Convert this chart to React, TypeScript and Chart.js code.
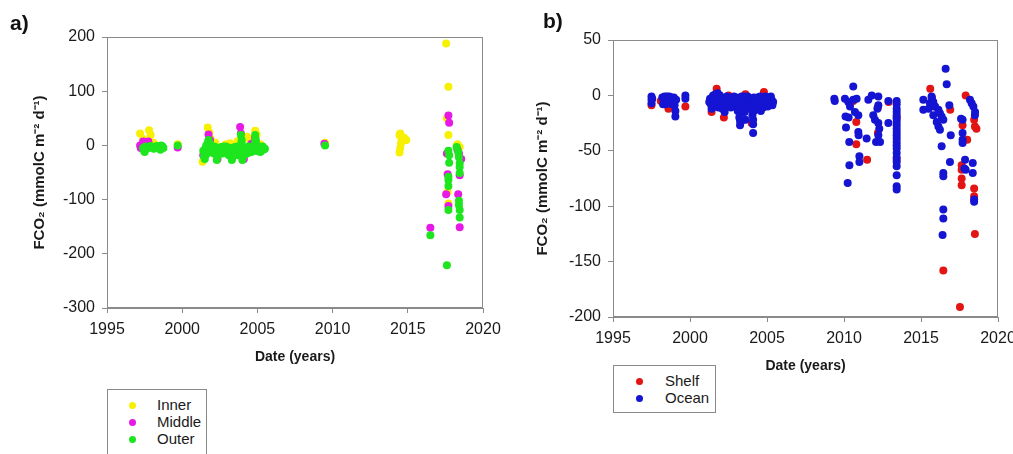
import React, { useEffect, useRef } from "react";
import { Chart, registerables } from "chart.js";

Chart.register(...registerables);

// ---------- Data (year, FCO2) ----------
const xTickValues = [1995, 2000, 2005, 2010, 2015, 2020];
const yTicksA = [-300, -200, -100, 0, 100, 200];
const yTicksB = [-200, -150, -100, -50, 0, 50];

const innerPts: number[][] = [
  [1997.2, 22], [1997.4, 12], [1997.8, 28], [1997.9, 19], [1998.1, 5], [1999.7, 2],
  [2001.35, -30], [2001.45, -18], [2001.7, 33], [2001.8, 24], [2001.9, 12], [2002.2, 5],
  [2002.5, -8], [2002.9, 2], [2003.2, 4], [2003.5, -5], [2003.7, 8], [2004.0, 10],
  [2004.3, 16], [2004.5, 12], [2004.85, 27], [2004.95, 20], [2005.2, 2],
  [2009.5, 5],
  [2014.45, 19], [2014.5, 22], [2014.55, 15], [2014.6, 8], [2014.55, 4], [2014.5, -5],
  [2014.45, -13], [2014.9, 10], [2014.75, 14],
  [2017.55, 188], [2017.7, 108], [2017.6, 50], [2017.7, 19], [2017.65, -86], [2017.7, -107],
  [2018.25, 0], [2018.45, -3], [2018.3, 2],
];
const middlePts: number[][] = [
  [1997.2, 0], [1997.25, -5], [1997.4, 7], [1997.75, 7], [1997.6, 2], [1997.9, -3], [1999.7, -4],
  [2001.4, -18], [2001.6, -10], [2001.75, 20], [2001.85, 10], [2002.1, -5], [2002.35, -25],
  [2002.7, -12], [2003.0, -8], [2003.3, -25], [2003.6, -15], [2003.85, 34], [2003.9, 22],
  [2004.1, -25], [2004.3, -10], [2004.6, 3], [2004.85, 14], [2005.0, -10], [2005.3, -5],
  [2009.45, 3],
  [2016.5, -152],
  [2017.7, 55], [2017.75, 42], [2017.6, -15], [2017.65, -53], [2017.55, -90], [2017.7, -112],
  [2018.4, -15], [2018.45, -55], [2018.35, -90], [2018.45, -151], [2018.3, -8], [2018.55, -25],
];
const outerPts: number[][] = [
  [1997.5, -12], [1997.4, -5], [1997.55, -2], [1997.8, -4], [1998.0, -3], [1998.2, -4],
  [1998.4, -2], [1998.6, 0], [1998.55, -8], [1998.75, -5], [1999.7, 0],
  [2001.4, -10], [2001.45, -20], [2001.5, -25], [2001.55, -5], [2001.6, 0], [2001.65, -15],
  [2001.7, 5], [2001.75, 10], [2001.8, -8], [2001.85, 3], [2001.9, -12], [2002.0, -3],
  [2002.1, -15], [2002.2, -8], [2002.3, -27], [2002.35, -20], [2002.4, -5], [2002.5, -10],
  [2002.6, -3], [2002.7, -15], [2002.8, -6], [2002.9, -2], [2003.0, -10], [2003.1, -18],
  [2003.2, -5], [2003.3, -27], [2003.35, -20], [2003.4, -12], [2003.5, -3], [2003.6, -8],
  [2003.7, -18], [2003.8, -4], [2003.9, 19], [2003.95, 10], [2004.0, -27], [2004.05, -20],
  [2004.1, -12], [2004.2, -5], [2004.3, -15], [2004.4, -2], [2004.5, -8], [2004.6, -12],
  [2004.7, -4], [2004.8, 0], [2004.85, 19], [2004.9, 10], [2005.0, -3], [2005.1, -8],
  [2005.2, -12], [2005.3, -5], [2005.4, -8], [2005.5, -6],
  [2001.5, -12], [2001.55, -18], [2001.65, -4], [2001.7, -9], [2001.8, 0], [2001.95, -7],
  [2002.05, -10], [2002.15, -2], [2002.25, -12], [2002.45, -14], [2002.55, -7], [2002.65, -10],
  [2002.75, -2], [2002.85, -12], [2002.95, -7], [2003.05, -4], [2003.15, -12], [2003.25, -15],
  [2003.45, -8], [2003.55, -14], [2003.65, -2], [2003.75, -10], [2003.85, -12], [2003.9, 0],
  [2003.95, -6], [2004.15, -17], [2004.25, -9], [2004.35, -6], [2004.45, -13], [2004.55, -3],
  [2004.65, -7], [2004.75, -10], [2004.9, -6], [2004.95, 2], [2005.05, -11], [2005.15, -3],
  [2005.25, -9], [2005.35, -2], [2003.95, 5], [2004.85, 8],
  [1997.45, -9], [1997.65, -6], [1997.9, -1], [1998.1, -6], [1998.3, -1], [1998.7, -2],
  [2009.5, 0],
  [2016.5, -166],
  [2017.6, -221], [2017.7, -10], [2017.75, -18], [2017.75, -32], [2017.7, -58], [2017.7, -64],
  [2017.7, -75], [2017.7, -119],
  [2018.25, -3], [2018.4, -22], [2018.45, -33], [2018.45, -40], [2018.45, -51], [2018.4, -102],
  [2018.4, -110], [2018.45, -119], [2018.45, -133], [2018.35, -12],
];

const shelfPts: number[][] = [
  [1997.5, -9], [1998.6, -12], [1999.7, -10], [1998.1, -5],
  [2001.73, 6], [2001.4, -15], [2002.2, -20], [2003.6, 1], [2004.8, 3], [2004.0, -25],
  [2005.15, -9], [2002.5, 0], [2003.2, -10], [2004.5, -12], [2003.9, -12], [2001.9, -8],
  [2010.8, -24], [2010.8, -44], [2011.5, -58], [2012.2, -11], [2012.2, -34], [2012.9, -6],
  [2013.42, -58], [2013.42, -20], [2010.6, -5],
  [2015.6, 6], [2015.7, -2], [2016.9, -13], [2016.45, -158], [2015.9, -10],
  [2017.9, 0], [2017.7, -27], [2018.0, -40], [2017.64, -63], [2017.64, -67], [2017.64, -75],
  [2017.64, -81], [2017.53, -191], [2018.45, -22], [2018.5, -28], [2018.6, -30],
  [2018.45, -84], [2018.45, -91], [2018.5, -125],
];
const oceanPts: number[][] = [
  [1997.5, -1], [1997.5, -4], [1997.5, -7], [1998.2, -2], [1998.3, -5], [1998.4, -8],
  [1998.5, -1], [1998.6, -4], [1998.7, -7], [1998.8, -2], [1998.9, -5], [1999.0, -9],
  [1999.05, -14], [1999.05, -19], [1999.7, 0], [1999.7, -3],
  [1997.55, -3], [1998.25, -8], [1998.35, -1], [1998.45, -4], [1998.55, -7], [1998.65, -1],
  [1998.75, -5], [1998.85, -8], [1998.95, -2], [1999.1, -4],
  [2001.3, -3], [2001.35, -8], [2001.4, -12], [2001.5, 0], [2001.6, -5], [2001.7, -10],
  [2001.8, 2], [2001.9, -3], [2002.0, -7], [2002.1, -12], [2002.25, -15], [2002.3, -4],
  [2002.4, -1], [2002.5, -8], [2002.7, -3], [2002.8, -6], [2002.9, -10], [2003.0, -2],
  [2003.1, -14], [2003.2, -20], [2003.25, -27], [2003.3, -5], [2003.4, -9], [2003.5, -1],
  [2003.55, -15], [2003.6, -22], [2003.7, -4], [2003.8, -8], [2003.9, -12], [2004.0, -3],
  [2004.05, -18], [2004.1, -26], [2004.1, -34], [2004.2, -7], [2004.3, -11], [2004.4, -2],
  [2004.5, -6], [2004.6, -14], [2004.7, -4], [2004.8, -9], [2004.9, -1], [2005.0, -5],
  [2005.1, -2], [2005.2, -7], [2005.3, -4], [2005.35, -9],
  [2001.25, -6], [2001.45, -2], [2001.55, -9], [2001.65, 1], [2001.75, -6], [2001.85, -11],
  [2001.95, 0], [2002.05, -4], [2002.15, -8], [2002.35, -10], [2002.45, -5], [2002.55, -2],
  [2002.65, -11], [2002.85, -1], [2002.95, -5], [2003.05, -8], [2003.15, -3], [2003.2, -11],
  [2003.3, -16], [2003.35, -1], [2003.45, -5], [2003.45, -12], [2003.55, -8], [2003.65, -11],
  [2003.75, -1], [2003.85, -4], [2003.95, -7], [2004.05, -10], [2004.15, -2], [2004.15, -14],
  [2004.1, -22], [2004.25, -4], [2004.35, -7], [2004.45, -11], [2004.55, -1], [2004.65, -8],
  [2004.75, -11], [2004.85, -4], [2004.95, -8], [2005.05, -10], [2005.15, -4], [2005.25, -1],
  [2005.4, -6], [2003.25, -23], [2003.3, -24],
  [2009.37, -3], [2009.4, -5], [2010.06, -3], [2010.28, -6], [2010.6, -4], [2010.6, 8],
  [2010.82, -3], [2010.39, -10], [2010.71, -15], [2010.93, -18], [2010.1, -19], [2010.3, -20],
  [2010.13, -29], [2010.93, -33], [2010.95, -36], [2010.34, -42], [2011.47, -39], [2011.0, -55],
  [2011.0, -60], [2010.35, -63], [2010.24, -79], [2011.58, -4], [2011.8, 0], [2012.23, -1],
  [2012.23, -9], [2012.17, -12], [2011.9, -18], [2012.01, -22], [2012.23, -25], [2012.29, -30],
  [2012.23, -36], [2012.08, -42], [2012.34, -42], [2012.88, -5], [2012.88, -25],
  [2013.42, -5], [2013.42, -8], [2013.42, -12], [2013.42, -15], [2013.42, -18], [2013.42, -21],
  [2013.42, -24], [2013.42, -27], [2013.42, -30], [2013.42, -33], [2013.42, -36], [2013.42, -39],
  [2013.42, -42], [2013.42, -45], [2013.42, -48], [2013.42, -52], [2013.42, -56], [2013.42, -60],
  [2013.42, -64], [2013.42, -72], [2013.42, -82], [2013.42, -85],
  [2016.6, 24], [2016.67, 10], [2015.15, -4], [2015.15, -13], [2015.69, -1], [2015.8, -6],
  [2015.58, -7], [2015.91, -10], [2016.13, -13], [2016.23, -16], [2015.8, -18], [2016.34, -19],
  [2016.02, -24], [2016.13, -28], [2016.23, -31], [2016.45, -22], [2016.84, -9], [2016.93, -36],
  [2016.34, -46], [2016.45, -70], [2016.45, -73], [2016.45, -103], [2016.45, -111],
  [2016.4, -126], [2016.88, -60], [2015.5, -12], [2015.7, -3],
  [2017.7, -22], [2017.7, -34], [2017.7, -40], [2017.7, -43], [2017.6, -21], [2017.86, -58],
  [2017.82, -66], [2017.9, -67], [2018.18, -4], [2018.29, -7], [2018.4, -10], [2018.51, -15],
  [2018.5, -18], [2018.36, -61], [2018.36, -70], [2018.45, -94], [2018.45, -96],
];

// ---------- Styles ----------
const FONT = '"Liberation Sans", Arial, sans-serif';
const AXIS_GRAY = "#8a8a8a";
const YELLOW = "#f7f000";
const MAGENTA = "#e619e6";
const GREEN = "#1ee61e";
const RED = "#e31414";
const BLUE = "#1414d2";
const Y_TITLE = "FCO\u2082 (mmolC m\u207B\u00B2 d\u207B\u00B9)";

const toXY = (pts: number[][]) => pts.map((p) => ({ x: p[0], y: p[1] }));

const framePlugin = {
  id: "frame",
  afterDraw(chart: any) {
    const { ctx, chartArea } = chart;
    const l = Math.round(chartArea.left) + 0.5;
    const t = Math.round(chartArea.top) + 0.5;
    const r = Math.round(chartArea.right) - 0.5;
    const b = Math.round(chartArea.bottom) - 0.5;
    ctx.save();
    ctx.strokeStyle = AXIS_GRAY;
    ctx.lineWidth = 1;
    ctx.strokeRect(l, t, r - l, b - t);
    ctx.restore();
  },
};

function makeOptions(p: {
  yMin: number; yMax: number; yTicks: number[]; yWidth: number; xHeight: number;
  padTop: number; padRight: number; xTitleBottom: number; yTitlePad: number;
}) {
  return {
    animation: false,
    responsive: false,
    maintainAspectRatio: false,
    devicePixelRatio: 1,
    layout: { padding: { top: p.padTop, right: p.padRight, left: 0, bottom: 0 } },
    plugins: { legend: { display: false }, tooltip: { enabled: false } },
    elements: { point: { radius: 4, borderWidth: 0, hoverRadius: 4 } },
    scales: {
      x: {
        type: "linear",
        min: xTickValues[0],
        max: xTickValues[xTickValues.length - 1],
        afterBuildTicks: (s: any) => { s.ticks = xTickValues.map((v) => ({ value: v })); },
        afterFit: (s: any) => { s.height = p.xHeight; },
        grid: { drawOnChartArea: false, drawTicks: true, tickLength: 5, color: AXIS_GRAY },
        border: { display: true, color: AXIS_GRAY },
        ticks: {
          padding: 7, color: "#1a1a1a", font: { family: FONT, size: 16 },
          maxRotation: 0, autoSkip: false, callback: (v: any) => String(v),
        },
        title: {
          display: true, text: "Date (years)", color: "#1a1a1a",
          font: { family: FONT, size: 14, weight: "bold" },
          padding: { top: 0, bottom: p.xTitleBottom },
        },
      },
      y: {
        type: "linear",
        min: p.yMin,
        max: p.yMax,
        afterBuildTicks: (s: any) => { s.ticks = p.yTicks.map((v) => ({ value: v })); },
        afterFit: (s: any) => { s.width = p.yWidth; },
        grid: { drawOnChartArea: false, drawTicks: true, tickLength: 5, color: AXIS_GRAY },
        border: { display: true, color: AXIS_GRAY },
        ticks: {
          padding: 7, color: "#1a1a1a", font: { family: FONT, size: 16 },
          autoSkip: false, callback: (v: any) => String(v),
        },
        title: {
          display: true, text: Y_TITLE, color: "#1a1a1a",
          font: { family: FONT, size: 15, weight: "bold" },
          padding: { top: p.yTitlePad, bottom: 0 },
        },
      },
    },
  };
}

function ChartCanvas(props: { config: any; left: number; width: number; height: number }) {
  const ref = useRef<HTMLCanvasElement | null>(null);
  useEffect(() => {
    if (!ref.current) return;
    const chart = new Chart(ref.current, props.config);
    return () => chart.destroy();
  }, []);
  return (
    <canvas
      ref={ref}
      width={props.width}
      height={props.height}
      style={{ position: "absolute", left: props.left, top: 0, width: props.width, height: props.height }}
    />
  );
}

function Legend(props: { left: number; top: number; width: number; height: number; items: { label: string; color: string }[]; dotX: number; textX: number; firstY: number; step: number }) {
  return (
    <div
      style={{
        position: "absolute", left: props.left, top: props.top, width: props.width, height: props.height,
        border: "1px solid #8a8a8a", boxSizing: "border-box", background: "#fff",
      }}
    >
      {props.items.map((it, i) => (
        <React.Fragment key={it.label}>
          <div
            style={{
              position: "absolute", left: props.dotX - 3.5, top: props.firstY + i * props.step - 3.5,
              width: 7, height: 7, borderRadius: "50%", background: it.color,
            }}
          />
          <div
            style={{
              position: "absolute", left: props.textX, top: props.firstY + i * props.step - 9,
              height: 18, lineHeight: "18px", fontFamily: FONT, fontSize: 15, color: "#1a1a1a",
              whiteSpace: "nowrap",
            }}
          >
            {it.label}
          </div>
        </React.Fragment>
      ))}
    </div>
  );
}

export default function App() {
  const configA = {
    type: "scatter",
    data: {
      datasets: [
        { label: "Inner", data: toXY(innerPts), backgroundColor: YELLOW, borderColor: YELLOW, order: 3 },
        { label: "Middle", data: toXY(middlePts), backgroundColor: MAGENTA, borderColor: MAGENTA, order: 2 },
        { label: "Outer", data: toXY(outerPts), backgroundColor: GREEN, borderColor: GREEN, order: 1 },
      ],
    },
    options: makeOptions({
      yMin: -300, yMax: 200, yTicks: yTicksA, yWidth: 107, xHeight: 72,
      padTop: 37, padRight: 520 - 483, xTitleBottom: 14, yTitlePad: 31,
    }),
    plugins: [framePlugin],
  };
  const configB = {
    type: "scatter",
    data: {
      datasets: [
        { label: "Shelf", data: toXY(shelfPts), backgroundColor: RED, borderColor: RED, order: 2 },
        { label: "Ocean", data: toXY(oceanPts), backgroundColor: BLUE, borderColor: BLUE, order: 1 },
      ],
    },
    options: makeOptions({
      yMin: -200, yMax: 50, yTicks: yTicksB, yWidth: 113, xHeight: 63,
      padTop: 40, padRight: 540 - 498, xTitleBottom: 5, yTitlePad: 34,
    }),
    plugins: [framePlugin],
  };

  const labelStyle: React.CSSProperties = {
    position: "absolute", fontFamily: FONT, fontWeight: "bold", fontSize: 21, lineHeight: "21px", color: "#111",
  };

  return (
    <div style={{ position: "absolute", left: 0, top: 0, width: 1013, height: 454, overflow: "hidden", background: "#fff" }}>
      <ChartCanvas config={configA} left={0} width={520} height={380} />
      <ChartCanvas config={configB} left={500} width={540} height={380} />
      <div style={{ ...labelStyle, left: 10, top: 12 }}>a)</div>
      <div style={{ ...labelStyle, left: 543, top: 10 }}>b)</div>
      <Legend
        left={107} top={389} width={100} height={80}
        items={[{ label: "Inner", color: YELLOW }, { label: "Middle", color: MAGENTA }, { label: "Outer", color: GREEN }]}
        dotX={24} textX={49} firstY={15} step={17}
      />
      <Legend
        left={613} top={365} width={103} height={48}
        items={[{ label: "Shelf", color: RED }, { label: "Ocean", color: BLUE }]}
        dotX={25} textX={51} firstY={15} step={17}
      />
    </div>
  );
}
